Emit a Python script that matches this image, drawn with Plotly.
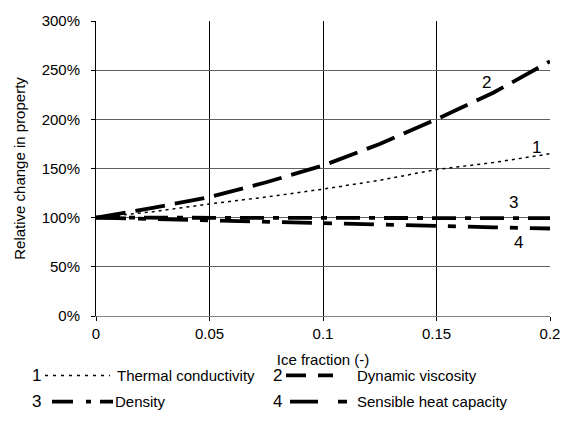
import plotly.graph_objects as go

# Ice fraction (-) and relative change of each property (%)
ice_fraction = [0.0, 0.025, 0.05, 0.075, 0.1, 0.125, 0.15, 0.175, 0.2]
thermal_conductivity = [100, 106, 114, 121, 129, 138, 149, 156, 165]
dynamic_viscosity = [100, 110, 121, 136, 153, 175, 200, 227, 259]
density = [100, 99.9, 99.8, 99.8, 99.7, 99.7, 99.6, 99.6, 99.5]
heat_capacity = [100, 98.5, 97, 95.7, 94.5, 92.7, 91.2, 90.2, 89]

series_names = ["Thermal conductivity", "Dynamic viscosity", "Density", "Sensible heat capacity"]
series_ids = ["1", "2", "3", "4"]
y_ticks = [0, 50, 100, 150, 200, 250, 300]
x_ticks = [0, 0.05, 0.1, 0.15, 0.2]

FONT = "Liberation Sans, Arial, sans-serif"
styles = [
    dict(width=1.5, dash="3px,4px"),
    dict(width=3.8, dash="30px,10px"),
    dict(width=3.8, dash="24px,9px,6px,9px"),
    dict(width=3.8, dash="30px,12px,8px,12px"),
]
legend_styles = [
    dict(width=1.5, dash="3px,5px"),
    dict(width=3.8, dash="20px,12px"),
    dict(width=3.8, dash="21px,13px,5px,9px"),
    dict(width=3.8, dash="28px,20px,9px,20px"),
]
values = [thermal_conductivity, dynamic_viscosity, density, heat_capacity]

W, H = 575, 440
L, R, T, B = 96, 25, 13, 124

fig = go.Figure()
for name, vals, st in zip(series_names, values, styles):
    fig.add_trace(go.Scatter(x=ice_fraction, y=vals, mode="lines", name=name,
                             line=dict(color="black", **st), showlegend=False))

# curve numbers beside the lines
for txt, xv, yv in [("1", 0.194, 171), ("2", 0.172, 237), ("3", 0.184, 115), ("4", 0.186, 75)]:
    fig.add_annotation(x=xv, y=yv, text=txt, showarrow=False,
                       font=dict(family=FONT, size=17, color="black"))

def px(xp, yp):
    return (xp - L) / (W - L - R), (H - B - yp) / (H - T - B)

# legend below the plot
legend_items = [
    (37, 45, 110, 115, 377),
    (277, 286, 333, 355, 377),
    (37, 52, 113, 113, 404),
    (277, 290, 347, 355, 404),
]
for sid, name, st, (nx, x0, x1, tx, yy) in zip(series_ids, series_names, legend_styles, legend_items):
    a0, b0 = px(x0, yy)
    a1, _ = px(x1, yy)
    fig.add_shape(type="line", xref="paper", yref="paper", x0=a0, x1=a1, y0=b0, y1=b0,
                  line=dict(color="black", **st))
    an, _ = px(nx, yy)
    fig.add_annotation(xref="paper", yref="paper", x=an, y=b0, text=sid, showarrow=False,
                       xanchor="center", yanchor="middle",
                       font=dict(family=FONT, size=17, color="black"))
    at, _ = px(tx, yy)
    fig.add_annotation(xref="paper", yref="paper", x=at, y=b0, text=name, showarrow=False,
                       xanchor="left", yanchor="middle",
                       font=dict(family=FONT, size=15, color="black"))

fig.update_layout(
    width=W, height=H,
    margin=dict(l=L, r=R, t=T, b=B),
    paper_bgcolor="white", plot_bgcolor="white",
    font=dict(family=FONT, size=15, color="black"),
    xaxis=dict(range=[0, 0.2], tickvals=x_ticks, ticktext=["0", "0.05", "0.1", "0.15", "0.2"],
               showgrid=True, gridcolor="black", gridwidth=1, zeroline=False,
               showline=True, linecolor="#808080", linewidth=1, mirror=False,
               ticks="outside", ticklen=4, tickcolor="black",
               title=dict(text="Ice fraction (-)", font=dict(size=15), standoff=13)),
    yaxis=dict(range=[0, 300], tickvals=y_ticks, ticktext=[f"{v}%" for v in y_ticks],
               showgrid=True, gridcolor="#606060", gridwidth=1, zeroline=False,
               showline=True, linecolor="black", linewidth=1,
               ticks="outside", ticklen=4, tickcolor="black", ticklabelstandoff=8,
               title=dict(text="Relative change in property", font=dict(size=15), standoff=12)),
)

fig.write_html("out.html")
